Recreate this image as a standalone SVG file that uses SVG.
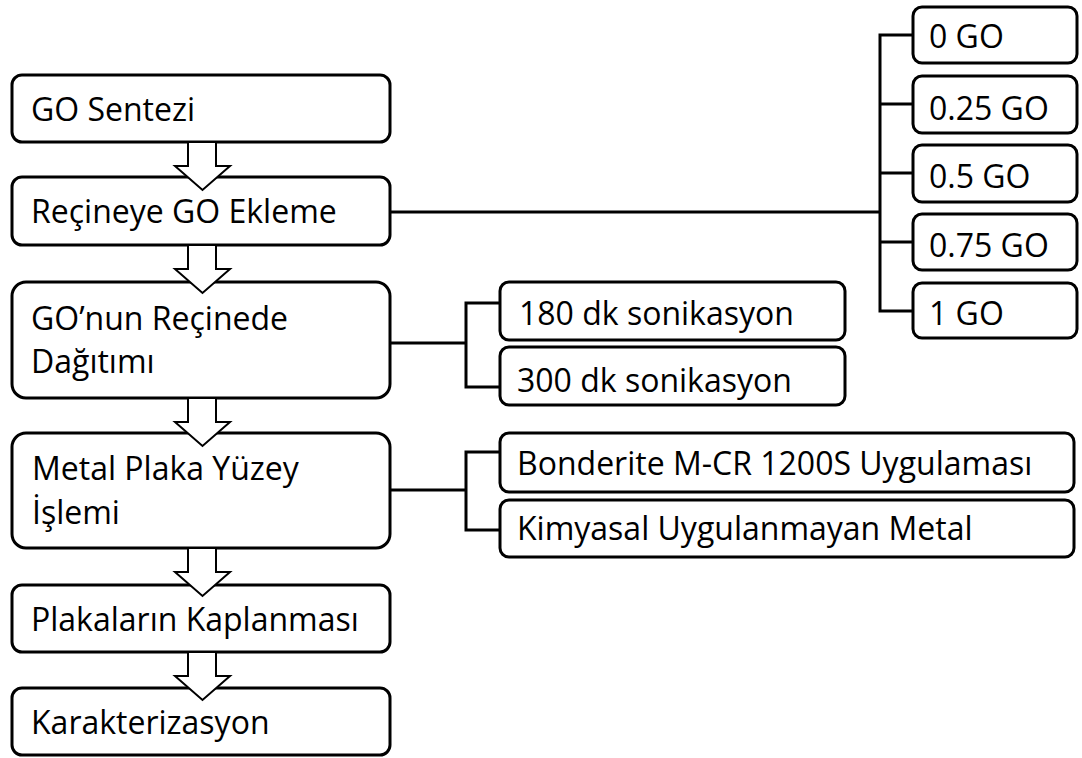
<svg xmlns="http://www.w3.org/2000/svg" width="1082" height="758" viewBox="0 0 1082 758">
<style>
.box{fill:#fff;stroke:#000;stroke-width:3}
.arr{fill:#fff;stroke:#000;stroke-width:2;stroke-linejoin:miter}
.con{fill:none;stroke:#000;stroke-width:3}
text{font-family:"Open Sans","Noto Sans",sans-serif;font-size:32px;fill:#000}
</style>
<rect width="1082" height="758" fill="#fff"/>
<g id="connectors">
<path class="con" d="M390,212 H880 M913,35 H880 V311 H913 M880,104 H913 M880,173 H913 M880,242 H913"/>
<path class="con" d="M390,343 H466 M500,303 H466 V387 H500"/>
<path class="con" d="M390,490 H466 M500,452 H466 V530 H500"/>
</g>
<g id="n1"><rect class="box" x="12" y="75" width="378" height="67" rx="10"/><text x="31" y="121">GO Sentezi</text></g>
<g id="n2"><rect class="box" x="12" y="177" width="378" height="68" rx="10"/><text x="31" y="223">Reçineye GO Ekleme</text></g>
<g id="n3"><rect class="box" x="12" y="282" width="378" height="116" rx="14"/><text x="31" y="330">GO’nun Reçinede</text><text x="31" y="373">Dağıtımı</text></g>
<g id="n4"><rect class="box" x="12" y="433" width="378" height="115" rx="14"/><text x="32" y="480">Metal Plaka Yüzey</text><text x="32" y="524">İşlemi</text></g>
<g id="n5"><rect class="box" x="12" y="585" width="378" height="67" rx="10"/><text x="31" y="631">Plakaların Kaplanması</text></g>
<g id="n6"><rect class="box" x="12" y="688" width="378" height="67" rx="10"/><text x="31" y="734">Karakterizasyon</text></g>
<g id="a1"><path class="arr" d="M188,143 V166 H175 L202.5,190 L230,166 H216 V143"/></g>
<g id="a2"><path class="arr" d="M188,246 V269 H175 L202.5,293 L230,269 H216 V246"/></g>
<g id="a3"><path class="arr" d="M188,399 V422 H175 L202.5,446 L230,422 H216 V399"/></g>
<g id="a4"><path class="arr" d="M188,549 V572 H175 L202.5,596 L230,572 H216 V549"/></g>
<g id="a5"><path class="arr" d="M188,653 V676 H175 L202.5,700 L230,676 H216 V653"/></g>
<g id="g0"><rect class="box" x="913" y="7" width="164" height="56" rx="9"/><text x="929" y="48">0 GO</text></g>
<g id="g25"><rect class="box" x="913" y="76" width="164" height="57" rx="9"/><text x="929" y="120">0.25 GO</text></g>
<g id="g5"><rect class="box" x="913" y="145" width="164" height="57" rx="9"/><text x="929" y="188">0.5 GO</text></g>
<g id="g75"><rect class="box" x="913" y="214" width="164" height="56" rx="9"/><text x="929" y="257">0.75 GO</text></g>
<g id="g1"><rect class="box" x="913" y="283" width="164" height="55" rx="9"/><text x="929" y="325">1 GO</text></g>
<g id="s180"><rect class="box" x="500" y="282" width="345" height="58" rx="9"/><text x="519" y="325">180 dk sonikasyon</text></g>
<g id="s300"><rect class="box" x="500" y="347" width="345" height="58" rx="9"/><text x="517" y="392">300 dk sonikasyon</text></g>
<g id="b1"><rect class="box" x="500" y="433" width="574" height="59" rx="9"/><text x="517" y="475">Bonderite M-CR 1200S Uygulaması</text></g>
<g id="b2"><rect class="box" x="500" y="500" width="574" height="57" rx="9"/><text x="517" y="540">Kimyasal Uygulanmayan Metal</text></g>
</svg>
